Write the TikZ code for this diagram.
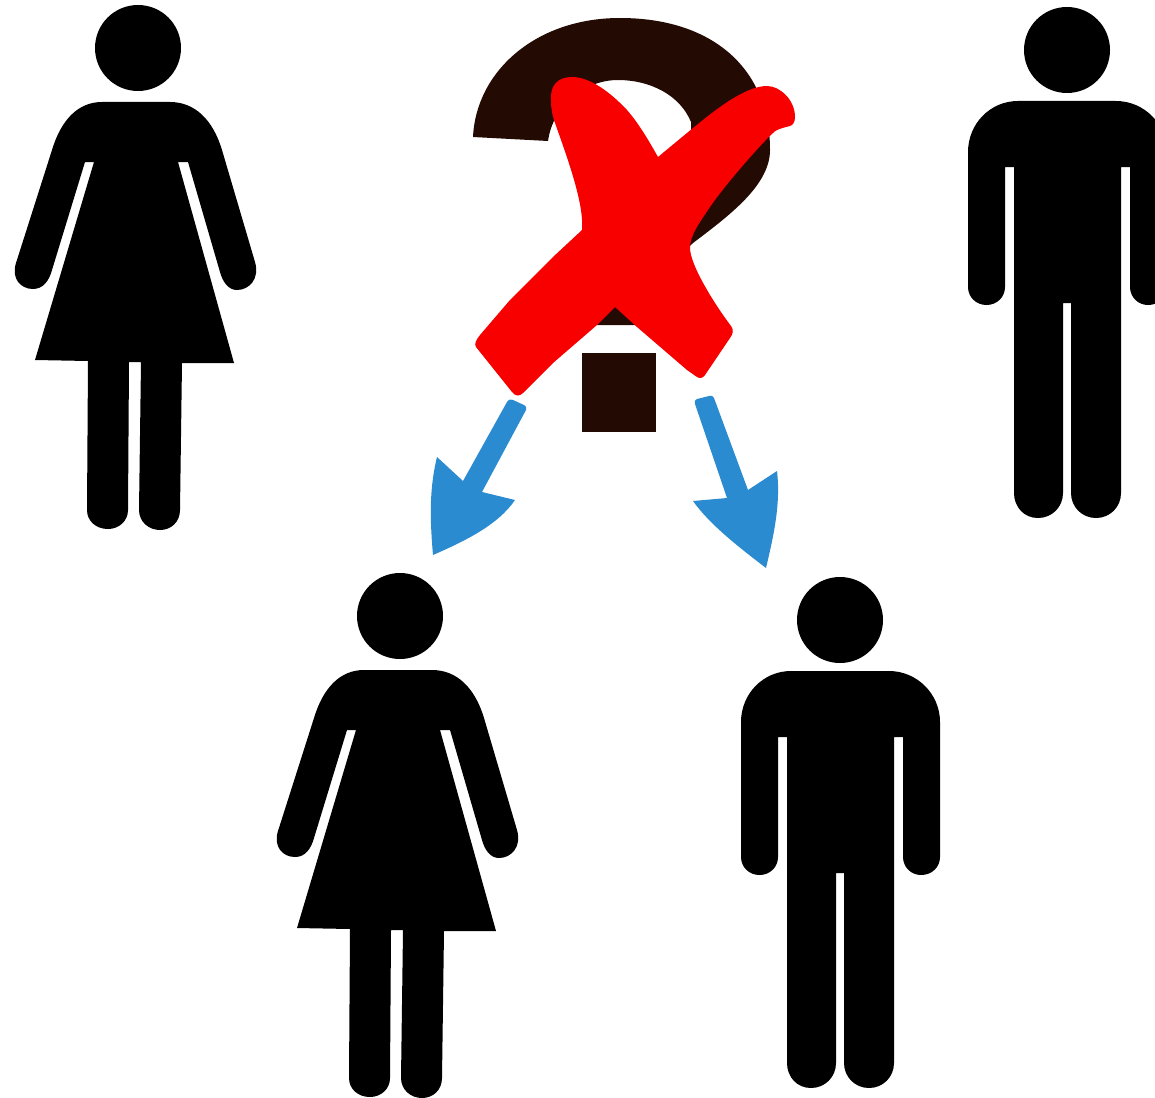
\documentclass[tikz,border=0pt]{standalone}
\definecolor{qbrown}{HTML}{230A02}
\definecolor{xred}{HTML}{F80000}
\definecolor{arrowblue}{HTML}{2B8BD0}
\tikzset{
  figure/.style={fill=black,draw=none},
  woman/.pic={
    \fill[figure] (138,48) circle (43);
    \fill[figure] (102,102) -- (170,102) .. controls (195,102) and (213,120) .. (222,150)
      -- (255,262) .. controls (260,279) and (249,290) .. (237,290)
      .. controls (229,290) and (223,283) .. (220,272) -- (188,162) -- (178,162)
      -- (234,363) -- (182,363) -- (180,510) .. controls (180,522) and (171,530) .. (160,530)
      .. controls (149,530) and (139,522) .. (139,510) -- (141,362) -- (129,362)
      -- (128,510) .. controls (128,521) and (119,529) .. (108,529)
      .. controls (96,529) and (87,521) .. (87,510) -- (88,361) -- (35,360)
      -- (94,162) -- (85,162) -- (52,270) .. controls (49,281) and (43,289) .. (33,289)
      .. controls (21,289) and (11,279) .. (16,263) -- (52,150)
      .. controls (61,120) and (78,102) .. (102,102) -- cycle;
  },
  man/.pic={
    \fill[figure] (1067,50) circle (43);
    \fill[figure] (1018,101) -- (1116,101) .. controls (1144,101) and (1167,124) .. (1167,152)
      -- (1167,287) .. controls (1167,297) and (1159,305) .. (1148,305)
      .. controls (1138,305) and (1130,297) .. (1130,287) -- (1130,167) -- (1121,167)
      -- (1121,493) .. controls (1121,507) and (1110,518) .. (1096,518)
      .. controls (1082,518) and (1071,507) .. (1071,493) -- (1071,303) -- (1063,303)
      -- (1063,493) .. controls (1063,507) and (1052,518) .. (1038,518)
      .. controls (1024,518) and (1014,507) .. (1014,493) -- (1014,167) -- (1005,167)
      -- (1005,287) .. controls (1005,297) and (997,305) .. (986.5,305)
      .. controls (976,305) and (968,297) .. (968,287) -- (968,152)
      .. controls (968,124) and (990,101) .. (1018,101) -- cycle;
  }
}
\begin{document}
\begin{tikzpicture}[x=1pt,y=-1pt]
\useasboundingbox (0,0) rectangle (1155,1097);
\clip (0,0) rectangle (1155,1097);
\fill[white] (0,0) rectangle (1155,1097);
% question mark
\fill[qbrown] (473,137) .. controls (476,72) and (535,18) .. (620,18)
  .. controls (712,18) and (770,68) .. (770,150)
  .. controls (770,185) and (730,215) .. (693,243)
  -- (645,290) -- (637,325) -- (597,325) -- (600,270) -- (650,210)
  .. controls (675,180) and (693,150) .. (691,122)
  .. controls (680,95) and (650,80) .. (618,80)
  .. controls (585,80) and (553,105) .. (548,141) -- cycle;
\fill[qbrown] (582,353) rectangle (656,432);
% cross
\fill[xred] (551,100) .. controls (550,85) and (558,77) .. (572,77)
  .. controls (590,77) and (610,92) .. (627,110)
  .. controls (640,125) and (650,143) .. (658,157)
  -- (693,128) .. controls (715,110) and (745,86) .. (767,86)
  .. controls (780,86) and (795,100) .. (795,117)
  .. controls (795,122) and (793,125) .. (790,126)
  .. controls (782,128) and (775,130) .. (773,133)
  .. controls (760,145) and (725,185) .. (710,207)
  .. controls (700,222) and (690,235) .. (690,248)
  .. controls (690,265) and (715,305) .. (731,326)
  .. controls (734,330) and (733,334) .. (730,338)
  -- (705,375) .. controls (703,378) and (700,379) .. (697,377) -- (687,370) -- (637,327) -- (615,307) -- (597,325) -- (553,363) -- (523,393)
  .. controls (519,397) and (515,396) .. (512,392)
  -- (476,347) .. controls (474,344) and (476,340) .. (480,335) -- (510,300) -- (553,257) -- (582,230)
  .. controls (584,205) and (570,165) .. (555,123)
  .. controls (552,115) and (551,108) .. (551,100) -- cycle;
% arrows
\fill[arrowblue] (507,402) .. controls (509,399) and (511,399) .. (513,400) -- (524,405)
  .. controls (526,406) and (527,408) .. (526,410) -- (482,492) -- (515,500)
  .. controls (498,525) and (465,541) .. (433,555)
  .. controls (430,520) and (429,490) .. (437,457) -- (463,481) -- cycle;
\fill[arrowblue] (695,404) .. controls (694,401) and (695,400) .. (697,399) -- (709,396)
  .. controls (711,395) and (713,396) .. (714,398) -- (748,490) -- (777,471)
  .. controls (781,505) and (773,538) .. (766,568)
  .. controls (740,548) and (710,525) .. (693,501) -- (727,498) -- cycle;
% figures
\pic at (0,0) {woman};
\pic at (262,568) {woman};
\pic at (0,0) {man};
\pic at (-227,570) {man};
\end{tikzpicture}
\end{document}
